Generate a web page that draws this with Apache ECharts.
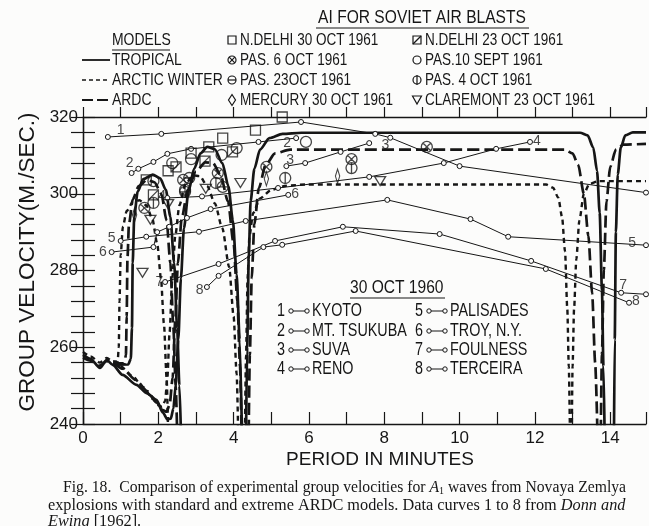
<!DOCTYPE html>
<html>
<head>
<meta charset="utf-8">
<script src="https://cdn.jsdelivr.net/npm/echarts@6/dist/echarts.min.js"></script>
<style>
  html, body { margin: 0; padding: 0; background: #fcfcfb; }
  #chart { width: 649px; height: 526px; }
</style>
</head>
<body>
<div id="chart"></div>
<script>
// ---- Model dispersion curves: [period (min), group velocity (m/s)] ----
const tropicalLow   = [[0,258],[0.2,257],[0.45,254.6],[0.63,256.7],[0.79,255.4],[1.05,252.8],[1.42,250.2],[1.7,248],[1.95,246.3],[2.12,243],[2.24,241.2],[2.33,241.4],[2.4,244],[2.46,250],[2.53,262],[2.6,278],[2.68,291],[2.8,300.5],[2.95,306.5],[3.12,310.5],[3.3,312.2],[3.5,311.6],[3.7,308],[3.86,302],[3.98,293],[4.08,279],[4.16,262],[4.22,238]];
const tropicalArch1 = [[0.79,255.4],[1.2,255.5],[1.27,257],[1.3,265],[1.32,282],[1.36,294],[1.45,300.5],[1.6,303.8],[1.85,305],[2.05,304],[2.2,301],[2.32,294],[2.42,282],[2.5,265],[2.56,250],[2.6,238]];
const tropicalArch3 = [[4.33,238],[4.36,260],[4.4,283],[4.45,298],[4.55,306.5],[4.7,311.5],[4.95,314.5],[5.3,315.6],[5.8,315.9],[13.2,315.9],[13.4,315.2],[13.55,312],[13.65,306],[13.72,295],[13.78,275],[13.82,255],[13.85,238]];
const tropicalArch4 = [[14.1,238],[14.12,262],[14.15,290],[14.2,305],[14.28,312],[14.4,315.2],[14.6,316],[14.95,316]];

const ardcLow   = [[0,257.3],[0.2,256.5],[0.45,255.2],[0.63,256.4],[0.8,255.8],[1.05,254.4],[1.4,251.5],[1.7,248.6],[1.95,245.6],[2.12,243.6],[2.22,243.2],[2.3,245],[2.38,252],[2.45,267],[2.52,282],[2.62,293.5],[2.78,301],[3.0,305.8],[3.25,308.2],[3.45,308],[3.65,305],[3.85,298],[4.0,287],[4.1,272],[4.17,255],[4.21,238]];
const ardcArch1 = [[0.8,255.8],[1.1,255.8],[1.14,258],[1.16,268],[1.18,283],[1.22,292],[1.32,298.5],[1.48,302],[1.7,303.6],[1.9,303],[2.08,300],[2.22,293],[2.32,282],[2.4,265],[2.46,250],[2.5,238]];
const ardcArch3 = [[4.4,238],[4.43,258],[4.48,278],[4.55,292],[4.67,301.5],[4.85,307.5],[5.1,310.5],[5.5,311.5],[12.8,311.5],[13.0,310.5],[13.15,307.5],[13.3,300],[13.42,289],[13.52,274],[13.6,256],[13.66,238]];
const ardcArch4 = [[13.75,238],[13.78,258],[13.83,280],[13.9,298],[14.0,307],[14.15,311.5],[14.35,312.8],[14.95,313]];

const arcticLow   = [[0,258.8],[0.2,257.6],[0.45,256],[0.63,257.2],[0.8,256.3],[1.0,255],[1.3,252.6],[1.6,249.6],[1.85,246.6],[2.0,244.9],[2.1,244.5],[2.18,246],[2.24,252],[2.3,264],[2.37,278],[2.45,289],[2.56,297],[2.72,302.5],[2.92,304.8],[3.1,304.6],[3.3,302],[3.5,297.5],[3.7,291],[3.88,281],[4.0,268],[4.08,253],[4.12,238]];
const arcticArch1 = [[0.8,256.3],[0.92,256.3],[0.95,260],[0.97,272],[1.0,284],[1.06,291.5],[1.16,295.5],[1.32,297.8],[1.5,298.3],[1.68,297],[1.84,293.5],[1.97,287],[2.07,278],[2.15,266],[2.22,252],[2.26,238]];
const arcticArch3 = [[4.3,238],[4.33,258],[4.37,278],[4.42,289],[4.52,295],[4.7,298.8],[5.0,301],[5.4,302.1],[5.9,302.4],[12.3,302.4],[12.48,301.6],[12.62,299],[12.72,294],[12.8,285],[12.86,270],[12.9,255],[12.93,238]];
const arcticArch4 = [[12.98,238],[13.0,255],[13.04,270],[13.1,283],[13.18,293],[13.3,300],[13.45,302.6],[13.7,303.3],[14.95,303.3]];

// ---- Observed A1 group velocities, Soviet air blasts 1961 ----
const nDelhi30Oct = [[5.29,320],[4.58,316.6],[3.71,314.5],[3.34,312.2],[2.87,310.6],[2.26,306],[1.68,303.6]];
const nDelhi23Oct = [[1.87,299.7],[2.47,307],[3.24,308.5],[3.97,310.9]];
const pas6Oct     = [[1.63,296.3],[2.66,303.6],[3.58,305.4],[4.87,307],[7.13,309],[9.13,312.2]];
const pas10Sept   = [[1.87,303.3],[2.37,308],[2.87,309],[3.68,310.1],[4.08,311.9],[5.92,313.5]];
const pas23Oct    = [[2.82,304.1],[3.71,301.8],[2.71,300.5]];
const pas4Oct     = [[1.87,297.6],[2.71,301],[3.53,302.8],[5.37,304.1],[7.13,306.7]];
const mercury30Oct   = [[1.37,294.5],[4.87,303.9],[6.76,304.6]];
const claremont23Oct = [[2.26,297.3],[1.79,293.2],[3.26,301.3],[4.18,302.8],[1.58,279.4],[7.89,303.3]];

// ---- Data curves 1-8, 30 Oct 1960 ----
const kyoto     = [[0.66,314.8],[2.08,315.6],[5.79,318.7],[7.76,315.6],[8.16,314.6],[10.0,307.2],[14.95,300.3]];
const mtTsukuba = [[1.29,305.4],[1.47,306.5],[1.87,308.3],[2.24,310.4],[2.87,311.7],[4.66,313.5],[5.66,314.5]];
const suva      = [[5.4,307.2],[5.9,308],[6.84,310.9],[7.6,313.2]];
const reno      = [[2.24,298.9],[3.16,299.3],[5.18,301.5],[7.6,304.4],[9.58,308],[10.97,311.7],[11.87,313.5]];
const palisades = [[1.0,287.7],[1.68,288.8],[3.08,290.1],[4.32,292.9],[8.08,298.4],[10.29,293.4],[11.29,288.8],[14.95,286.6]];
const troy      = [[0.76,284.8],[1.87,286.1],[1.97,290],[2.29,291.4],[2.76,293.7],[3.39,296],[5.45,299.7]];
const foulness  = [[2.18,277],[3.6,281.7],[5.1,287.7],[6.9,291.4],[9.47,289.5],[11.9,282.5],[14.29,274.2],[14.95,273.8]];
const terceira  = [[3.29,275.7],[3.6,278.6],[4.79,286.1],[5.29,286.7],[7.24,290.3],[12.29,280.4],[14.5,271.6]];

// curve number tags placed on the plot: [period, velocity, text]
const curveTags = [[1.0,316.6,'1'],[1.24,308,'2'],[5.42,313.2,'2'],[5.5,308.8,'3'],[8.03,312.7,'3'],
  [2.1,299.4,'4'],[12.05,313.8,'4'],[0.76,288.5,'5'],[14.58,287.2,'5'],[0.53,284.8,'6'],[5.63,300,'6'],
  [2.03,277,'7'],[14.34,276.2,'7'],[3.1,275,'8'],[14.68,272.1,'8']];

// legend texts
const modelNames   = ['TROPICAL', 'ARCTIC WINTER', 'ARDC'];
const blastNamesA  = ['N.DELHI 30 OCT 1961', 'PAS. 6 OCT 1961', 'PAS. 23OCT 1961', 'MERCURY 30 OCT 1961'];
const blastNamesB  = ['N.DELHI 23 OCT 1961', 'PAS.10 SEPT 1961', 'PAS. 4 OCT 1961', 'CLAREMONT 23 OCT 1961'];
const stationNames = ['KYOTO', 'MT. TSUKUBA', 'SUVA', 'RENO', 'PALISADES', 'TROY, N.Y.', 'FOULNESS', 'TERCEIRA'];

// axis ticks
const xTicks = [0, 2, 4, 6, 8, 10, 12, 14];
const yTicks = [240, 260, 280, 300, 320];

const INK = '#161616';
const PAPER = '#fcfcfb';
const SANS = '"Liberation Sans", Arial, sans-serif';
const SERIF = '"Liberation Serif", "Times New Roman", serif';
const CONDENSE = 0.82;   // horizontal squeeze for the stencil lettering

// marker outlines in a 10x10 box
const CIRCLE = 'M0,5A5,5,0,1,1,10,5A5,5,0,1,1,0,5Z';
const MARK = {
  square:   'M0,0L10,0L10,10L0,10Z',
  squareD:  'M0,0L10,0L10,10L0,10Z M0,10L10,0',
  circleX:  CIRCLE + 'M1.5,1.5L8.5,8.5M8.5,1.5L1.5,8.5',
  circle:   CIRCLE,
  circleH:  CIRCLE + 'M0,5L10,5',
  circleV:  CIRCLE + 'M5,0L5,10',
  diamond:  'M3.5,0L7,6.5L3.5,13L0,6.5Z',
  triangle: 'M0,0L10,0L5,9Z'
};

const modelStyles = {
  tropical: { width: 2.7, type: 'solid' },
  arctic:   { width: 2.4, type: [5, 4] },
  ardc:     { width: 2.7, type: [12, 5] }
};

function modelSeries(name, data, style) {
  return {
    name, type: 'line', data, showSymbol: false, smooth: 0.25, smoothMonotone: 'x',
    lineStyle: { color: INK, width: style.width, type: style.type, cap: 'butt' },
    clip: true, z: 3, silent: true, animation: false
  };
}
function stationSeries(name, data) {
  return {
    name, type: 'line', data, symbol: 'circle', symbolSize: 5, showAllSymbol: true,
    itemStyle: { color: PAPER, borderColor: INK, borderWidth: 1 },
    lineStyle: { color: INK, width: 1 }, z: 4, clip: true, animation: false
  };
}
function blastSeries(name, data, shape, size) {
  return {
    name, type: 'scatter', data, symbol: 'path://' + MARK[shape], symbolSize: size,
    symbolKeepAspect: true,
    itemStyle: { color: 'rgba(0,0,0,0)', borderColor: INK, borderWidth: 1.3 },
    z: 5, animation: false
  };
}

const series = [
  modelSeries('TROPICAL', tropicalLow, modelStyles.tropical),
  modelSeries('TROPICAL', tropicalArch1, modelStyles.tropical),
  modelSeries('TROPICAL', tropicalArch3, modelStyles.tropical),
  modelSeries('TROPICAL', tropicalArch4, modelStyles.tropical),
  modelSeries('ARDC', ardcLow, modelStyles.ardc),
  modelSeries('ARDC', ardcArch1, modelStyles.ardc),
  modelSeries('ARDC', ardcArch3, modelStyles.ardc),
  modelSeries('ARDC', ardcArch4, modelStyles.ardc),
  modelSeries('ARCTIC WINTER', arcticLow, modelStyles.arctic),
  modelSeries('ARCTIC WINTER', arcticArch1, modelStyles.arctic),
  modelSeries('ARCTIC WINTER', arcticArch3, modelStyles.arctic),
  modelSeries('ARCTIC WINTER', arcticArch4, modelStyles.arctic),
  stationSeries(stationNames[0], kyoto),
  stationSeries(stationNames[1], mtTsukuba),
  stationSeries(stationNames[2], suva),
  stationSeries(stationNames[3], reno),
  stationSeries(stationNames[4], palisades),
  stationSeries(stationNames[5], troy),
  stationSeries(stationNames[6], foulness),
  stationSeries(stationNames[7], terceira),
  blastSeries(blastNamesA[0], nDelhi30Oct, 'square', 10),
  blastSeries(blastNamesB[0], nDelhi23Oct, 'squareD', 10),
  blastSeries(blastNamesA[1], pas6Oct, 'circleX', 11),
  blastSeries(blastNamesB[1], pas10Sept, 'circle', 11),
  blastSeries(blastNamesA[2], pas23Oct, 'circleH', 11),
  blastSeries(blastNamesB[2], pas4Oct, 'circleV', 11),
  blastSeries(blastNamesA[3], mercury30Oct, 'diamond', [8, 14]),
  blastSeries(blastNamesB[3], claremont23Oct, 'triangle', [11, 10]),
  {
    name: 'tags', type: 'scatter', data: curveTags, symbolSize: 0, z: 6, animation: false,
    label: { show: true, position: 'inside', formatter: p => p.value[2],
             color: INK, fontFamily: SANS, fontSize: 14 }
  }
];

// ---- legend and caption drawn as graphic elements ----
const graphics = [];
const stroke = { stroke: INK, lineWidth: 1.2, fill: 'none' };
function text(x, y, s, size, extra, squeeze) {
  graphics.push({
    type: 'text', x, y, silent: true, scaleX: squeeze === undefined ? CONDENSE : squeeze,
    style: Object.assign({ text: s, font: size + 'px ' + SANS, fill: INK,
      textAlign: 'left', textVerticalAlign: 'middle', align: 'left', verticalAlign: 'middle' }, extra || {})
  });
}
function rule(x1, y1, x2, y2, w, dash) {
  graphics.push({ type: 'line', silent: true, shape: { x1, y1, x2, y2 },
    style: { stroke: INK, lineWidth: w, lineDash: dash || null } });
}
function ring(cx, cy, r) {
  graphics.push({ type: 'circle', silent: true, shape: { cx, cy, r }, style: stroke });
}
// legend glyphs built from primitive shapes
function mark(shape, cx, cy) {
  const r = 4;
  if (shape === 'square' || shape === 'squareD') {
    graphics.push({ type: 'rect', silent: true, shape: { x: cx - r, y: cy - r, width: 2 * r, height: 2 * r }, style: stroke });
    if (shape === 'squareD') rule(cx - r, cy + r, cx + r, cy - r, 1.2);
  } else if (shape === 'diamond') {
    graphics.push({ type: 'polygon', silent: true,
      shape: { points: [[cx, cy - 5.5], [cx + 3.5, cy], [cx, cy + 5.5], [cx - 3.5, cy]] }, style: stroke });
  } else if (shape === 'triangle') {
    graphics.push({ type: 'polygon', silent: true,
      shape: { points: [[cx - 4.5, cy - 4], [cx + 4.5, cy - 4], [cx, cy + 4]] }, style: stroke });
  } else {
    ring(cx, cy, r);
    if (shape === 'circleX') { rule(cx - 2.8, cy - 2.8, cx + 2.8, cy + 2.8, 1.2); rule(cx + 2.8, cy - 2.8, cx - 2.8, cy + 2.8, 1.2); }
    if (shape === 'circleH') rule(cx - r, cy, cx + r, cy, 1.2);
    if (shape === 'circleV') rule(cx, cy - r - 1, cx, cy + r + 1, 1.2);
  }
}

// header
text(422, 18, 'AI FOR SOVIET AIR BLASTS', 19, { textAlign: 'center', align: 'center' });
rule(316, 28, 529, 28, 1.2);
text(112, 40, 'MODELS', 17);
rule(112, 50, 170, 50, 1.2);

const rowsTop = [40, 60, 80, 100];
// model key
rule(82, 60, 110, 60, 1.8);
text(112, 60, modelNames[0], 17);
rule(82, 80, 110, 80, 1.6, [4, 3]);
text(112, 80, modelNames[1], 17);
rule(82, 100, 110, 100, 1.8, [11, 4]);
text(112, 100, modelNames[2], 17);

// blast key
const shapesA = ['square', 'circleX', 'circleH', 'diamond'];
const shapesB = ['squareD', 'circle', 'circleV', 'triangle'];
rowsTop.forEach((y, i) => {
  mark(shapesA[i], 232, y);
  text(240, y, blastNamesA[i], 16.5);
  mark(shapesB[i], 417, y);
  text(425, y, blastNamesB[i], 16.5);
});

// station key
text(350, 288, '30 OCT 1960', 19);
rule(350, 298, 445, 298, 1.2);
const rowsBottom = [311, 331, 350, 369];
stationNames.forEach((name, i) => {
  const col = i < 4 ? 0 : 1;
  const y = rowsBottom[i % 4];
  const nx = col === 0 ? 285 : 423;
  text(nx, y, String(i + 1), 17.5, { textAlign: 'right', align: 'right' });
  const lx = nx + 4;
  rule(lx + 2, y, lx + 18, y, 1);
  graphics.push({ type: 'circle', silent: true, shape: { cx: lx + 2, cy: y, r: 2.2 },
    style: { fill: PAPER, stroke: INK, lineWidth: 1 } });
  graphics.push({ type: 'circle', silent: true, shape: { cx: lx + 18, cy: y, r: 2.2 },
    style: { fill: PAPER, stroke: INK, lineWidth: 1 } });
  text(lx + 23, y, name, 17.5);
});

// axis titles
text(380, 460, 'PERIOD IN MINUTES', 19, { textAlign: 'center', align: 'center' }, 1);
graphics.push({
  type: 'text', x: 28, y: 262, rotation: Math.PI / 2, silent: true,
  style: { text: 'GROUP VELOCITY(M./SEC.)', font: '22.5px ' + SANS, fill: INK,
           textAlign: 'center', textVerticalAlign: 'middle', align: 'center', verticalAlign: 'middle' }
});

// caption
function caption(x, y, s, size) {
  graphics.push({ type: 'text', x, y, silent: true,
    style: { text: s, fontFamily: SERIF, fontSize: size, fill: INK,
             rich: {
               i: { fontFamily: SERIF, fontSize: size, fontStyle: 'italic', fill: INK, color: INK },
               s: { fontFamily: SERIF, fontSize: 10, fill: INK, color: INK, padding: [7, 0, 0, 0] }
             },
             textAlign: 'left', textVerticalAlign: 'middle', align: 'left', verticalAlign: 'middle' } });
}
caption(63, 488, 'Fig. 18.  Comparison of experimental group velocities for {i|A}{s|1} waves from Novaya Zemlya', 15.7);
caption(48, 506, 'explosions with standard and extreme ARDC models. Data curves 1 to 8 from {i|Donn and}', 16.3);
caption(48, 522, '{i|Ewing} [1962].', 16.3);

const chart = echarts.init(document.getElementById('chart'), null, { renderer: 'canvas' });
chart.setOption({
  backgroundColor: PAPER,
  animation: false,
  grid: { left: 83, top: 117, width: 568, height: 307 },
  xAxis: [
    {
      type: 'value', min: 0, max: 14.95, interval: 1, position: 'bottom',
      axisLine: { show: true, lineStyle: { color: INK, width: 1.3 } },
      axisTick: { show: true, inside: true, length: 12, lineStyle: { color: INK, width: 1.2 } },
      axisLabel: { show: true, margin: 6, color: INK, fontFamily: SANS, fontSize: 17,
                   formatter: v => (xTicks.indexOf(v) >= 0 ? String(v) : '') },
      splitLine: { show: false }
    },
    {
      type: 'value', min: 0, max: 14.95, interval: 1, position: 'top',
      axisLine: { show: true, lineStyle: { color: INK, width: 1.3 } },
      axisTick: { show: true, inside: false, length: 10, lineStyle: { color: INK, width: 1.2 } },
      axisLabel: { show: false }, splitLine: { show: false }
    }
  ],
  yAxis: [
    {
      type: 'value', min: 240, max: 320, interval: 4, position: 'left',
      axisLine: { show: true, lineStyle: { color: INK, width: 1.3 } },
      axisTick: { show: true, inside: true, length: 12, lineStyle: { color: INK, width: 1.2 } },
      axisLabel: { show: true, margin: 5, color: INK, fontFamily: SANS, fontSize: 17,
                   formatter: v => (yTicks.indexOf(v) >= 0 ? String(v) : '') },
      splitLine: { show: false }
    },
    {
      type: 'value', min: 240, max: 320, interval: 4, position: 'right',
      axisLine: { show: true, lineStyle: { color: INK, width: 1.3 } },
      axisTick: { show: true, inside: true, length: 12, lineStyle: { color: INK, width: 1.2 } },
      axisLabel: { show: false }, splitLine: { show: false }
    }
  ],
  series,
  graphic: { elements: graphics }
});
</script>
</body>
</html>
